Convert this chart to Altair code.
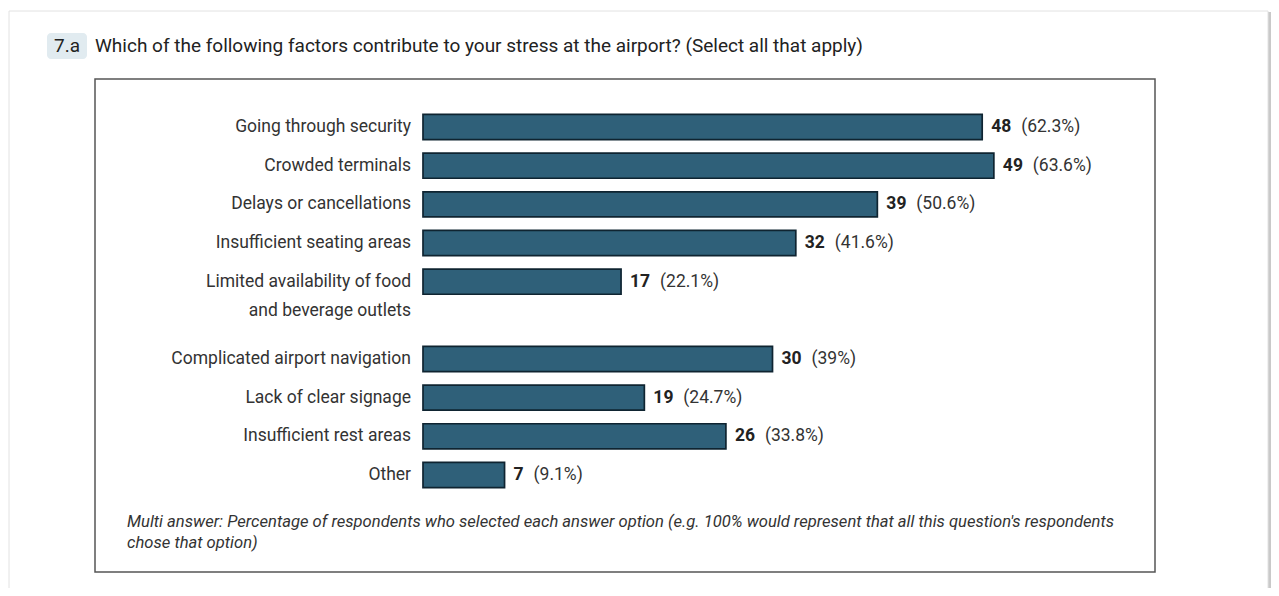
import altair as alt
import pandas as pd

# ---- data ----
categories = [
    "Going through security",
    "Crowded terminals",
    "Delays or cancellations",
    "Insufficient seating areas",
    "Limited availability of food ",
    "Complicated airport navigation",
    "Lack of clear signage",
    "Insufficient rest areas",
    "Other",
]
second_lines = ["", "", "", "", "and beverage outlets", "", "", "", ""]
counts = [48, 49, 39, 32, 17, 30, 19, 26, 7]
percents = [62.3, 63.6, 50.6, 41.6, 22.1, 39, 24.7, 33.8, 9.1]

question_no = "7.a"
question = "Which of the following factors contribute to your stress at the airport? (Select all that apply)"
footnote_1 = ("Multi answer: Percentage of respondents who selected each answer option "
              "(e.g. 100% would represent that all this question's respondents")
footnote_2 = "chose that option)"

df = pd.DataFrame({
    "category": categories,
    "line2": second_lines,
    "count": counts,
    "pct": percents,
})
df["pct_label"] = df["pct"].map(lambda p: f"({p:g}%)")
df["count_label"] = df["count"].astype(str)

y_domain = categories[:5] + ["\u2009"] + categories[5:]

W, H = 1060, 493
FONT = "Roboto"
TEXT = "#333333"

x_scale = alt.Scale(domain=[0, 60], range=[328, 328 + 60 * 11.65], nice=False, zero=True)
y_scale = alt.Scale(domain=y_domain, range=[28.7, 415.3], paddingInner=0.35, paddingOuter=0.175)

X = alt.X("count:Q", scale=x_scale, axis=None)
Y = alt.Y("category:N", scale=y_scale, axis=None, sort=None)

one = alt.Data(values=[{"k": 1}])

# decorations
card_shadow = alt.Chart(one).mark_rect(fill="#c9c9c9").encode(
    x=alt.value(-85), x2=alt.value(1176), y=alt.value(-67), y2=alt.value(530))
card = alt.Chart(one).mark_rect(fill="white", stroke="#e2e2e2", strokeWidth=1).encode(
    x=alt.value(-86), x2=alt.value(1173), y=alt.value(-68), y2=alt.value(530))
box = alt.Chart(one).mark_rect(fill="white", stroke="#555555", strokeWidth=1.5).encode(
    x=alt.value(0), x2=alt.value(W), y=alt.value(0), y2=alt.value(H))
badge = alt.Chart(one).mark_rect(fill="#e1ebf0", cornerRadius=4).encode(
    x=alt.value(-48), x2=alt.value(-8), y=alt.value(-46), y2=alt.value(-20))
badge_text = alt.Chart(one).mark_text(font=FONT, fontSize=19, color="#222222",
                                      align="center", baseline="middle").encode(
    x=alt.value(-28), y=alt.value(-33), text=alt.value(question_no))
title_text = alt.Chart(one).mark_text(font=FONT, fontSize=19, color="#222222",
                                      align="left", baseline="middle").encode(
    x=alt.value(0), y=alt.value(-33), text=alt.value(question))
foot1 = alt.Chart(one).mark_text(font=FONT, fontSize=16.6, fontStyle="italic", color=TEXT,
                                 align="left", baseline="middle").encode(
    x=alt.value(32), y=alt.value(443), text=alt.value(footnote_1))
foot2 = alt.Chart(one).mark_text(font=FONT, fontSize=16.6, fontStyle="italic", color=TEXT,
                                 align="left", baseline="middle").encode(
    x=alt.value(32), y=alt.value(464), text=alt.value(footnote_2))

base = alt.Chart(df)

bars = base.mark_bar(color="#2f6079", stroke="#0f2431", strokeWidth=1.7).encode(
    x=X, x2=alt.datum(0), y=Y)

labels = base.mark_text(font=FONT, fontSize=17.5, color=TEXT, align="right",
                        baseline="middle").encode(
    x=alt.value(316), y=Y, text="category:N")
labels2 = base.mark_text(font=FONT, fontSize=17.5, color=TEXT, align="right",
                         baseline="middle", dy=29).encode(
    x=alt.value(316), y=Y, text="line2:N")

count_text = base.mark_text(font=FONT, fontSize=17.5, fontWeight="bold", color="#222222",
                            align="left", baseline="middle", dx=9).encode(
    x=X, y=Y, text="count_label:N")
pct_two = base.transform_filter("datum.count >= 10").mark_text(
    font=FONT, fontSize=17.5, color=TEXT, align="left", baseline="middle", dx=39).encode(
    x=X, y=Y, text="pct_label:N")
pct_one = base.transform_filter("datum.count < 10").mark_text(
    font=FONT, fontSize=17.5, color=TEXT, align="left", baseline="middle", dx=29).encode(
    x=X, y=Y, text="pct_label:N")

chart = alt.layer(
    card_shadow, card, box, badge, badge_text, title_text,
    bars, labels, labels2, count_text, pct_two, pct_one, foot1, foot2,
).properties(
    width=W, height=H,
    autosize=alt.AutoSizeParams(type="none"),
    padding={"left": 87, "top": 71, "right": 116, "bottom": 16},
    background="white",
).configure_view(stroke=None)

chart.save("out.html", embed_options={"renderer": "svg", "actions": False})
